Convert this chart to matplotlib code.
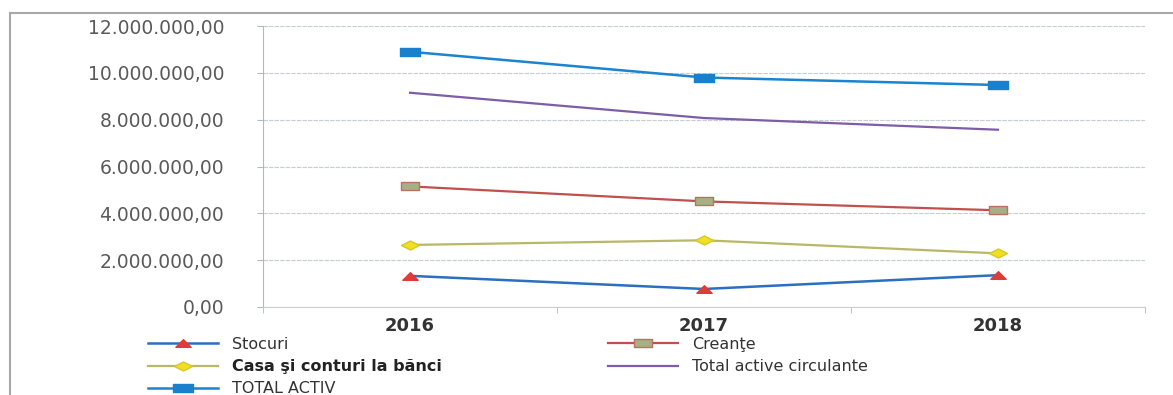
import matplotlib
matplotlib.use('Agg')
import matplotlib.pyplot as plt
from matplotlib.path import Path
from matplotlib.lines import Line2D
import numpy as np

# date
ani = ['2016', '2017', '2018']
stocuri = [1330000, 770000, 1360000]
creante = [5150000, 4510000, 4130000]
casa = [2650000, 2850000, 2290000]
total_circulante = [9150000, 8070000, 7570000]
total_activ = [10900000, 9800000, 9480000]

# markere "intinse" pe orizontala, ca in scanare
rect = Path([(-1, -0.45), (1, -0.45), (1, 0.45), (-1, 0.45), (-1, -0.45)], closed=True)
tri = Path([(-1, -0.5), (0, 0.5), (1, -0.5), (-1, -0.5)], closed=True)
romb = Path([(-1, 0), (0, 0.5), (1, 0), (0, -0.5), (-1, 0)], closed=True)


def fmt_ro(v, pos=None):
    s = f'{v:,.2f}'
    return s.replace(',', 'X').replace('.', ',').replace('X', '.')


if __name__ == '__main__':
    W, H = 1173, 395
    fig = plt.figure(figsize=(W / 100, H / 100), dpi=100)
    ax = fig.add_axes([263 / W, 1 - 307 / H, (1145 - 263) / W, (307 - 26) / H])

    x = np.arange(len(ani))

    l_sto, = ax.plot(x, stocuri, color='#2a6fc0', lw=1.8, marker=tri, ms=11,
                     mfc='#e03a3a', mec='#e03a3a', label='Stocuri')
    l_cre, = ax.plot(x, creante, color='#c0504d', lw=1.6, marker=rect, ms=13,
                     mfc='#a3b184', mec='#c07060', mew=1, label='Creanţe')
    l_cas, = ax.plot(x, casa, color='#b8b868', lw=1.6, marker=romb, ms=13,
                     mfc='#f0e020', mec='#d8c828', label='Casa şi conturi la bănci')
    l_tac, = ax.plot(x, total_circulante, color='#7d5ca8', lw=1.6,
                     label='Total active circulante')
    l_tot, = ax.plot(x, total_activ, color='#1a84d0', lw=1.8, marker=rect, ms=14,
                     mfc='#1a7fcc', mec='#1a7fcc', label='TOTAL ACTIV')

    ax.set_xlim(-0.5, 2.5)
    ax.set_ylim(0, 12000000)
    ax.set_yticks(np.arange(0, 12000001, 2000000))
    ax.yaxis.set_major_formatter(plt.FuncFormatter(fmt_ro))
    ax.set_xticks(x)
    ax.set_xticklabels(ani, fontweight='bold', fontsize=13, color='#333333')
    ax.set_xticks([-0.5, 0.5, 1.5, 2.5], minor=True)
    ax.tick_params(axis='x', which='major', length=0, pad=7)
    ax.tick_params(axis='x', which='minor', length=4, color='#b0b8c8')
    ax.tick_params(axis='y', length=4, color='#b0b8c8', pad=24, labelsize=13.5,
                   labelcolor='#5a5a5a')

    ax.grid(axis='y', color='#c8ccd4', lw=0.8, ls=(0, (4, 1)))
    ax.set_axisbelow(True)
    for s in ['top', 'right']:
        ax.spines[s].set_visible(False)
    ax.spines['left'].set_color('#b0b8c8')
    ax.spines['bottom'].set_color('#c8ccd4')

    # legenda in doua coloane, pozitionata ca in original
    fs = 11.5
    leg1 = fig.legend(handles=[l_sto, l_cas, l_tot], loc='upper left',
                      bbox_to_anchor=(148 / W, 1 - 337 / H), frameon=False,
                      fontsize=fs, handlelength=4.4, handletextpad=0.85,
                      borderpad=0, borderaxespad=0, labelspacing=0.45)
    leg2 = fig.legend(handles=[l_cre, l_tac], loc='upper left',
                      bbox_to_anchor=(608 / W, 1 - 337 / H), frameon=False,
                      fontsize=fs, handlelength=4.4, handletextpad=0.85,
                      borderpad=0, borderaxespad=0, labelspacing=0.45)
    for t in leg1.get_texts() + leg2.get_texts():
        t.set_color('#333333')
    leg1.get_texts()[1].set_fontweight('bold')
    leg1.get_texts()[1].set_color('#222222')

    # chenarul graficului
    fig.add_artist(Line2D([10 / W, 10 / W], [0, 1 - 13 / H], color='#a8a8a8', lw=1.5))
    fig.add_artist(Line2D([10 / W, 1], [1 - 13 / H, 1 - 13 / H], color='#a8a8a8', lw=1.5))

    plt.savefig('out.png', dpi=100)
